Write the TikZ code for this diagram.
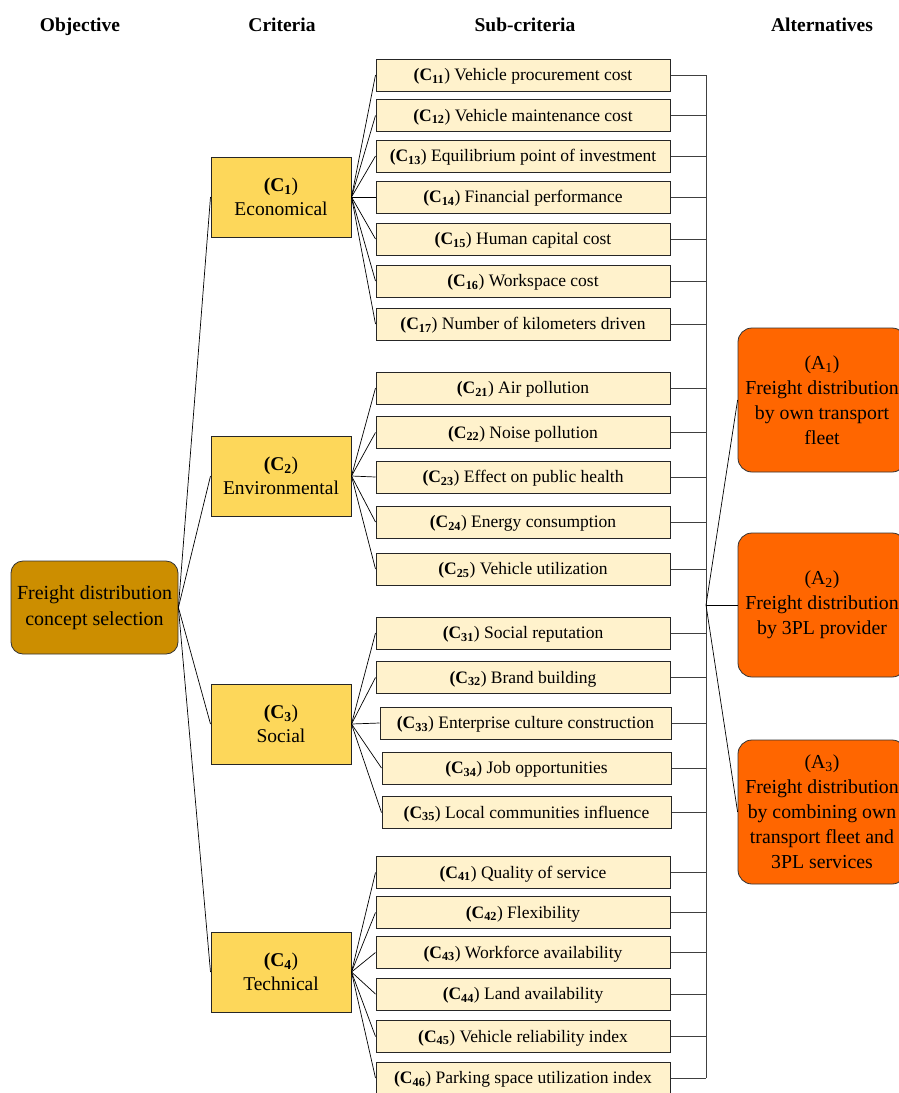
\documentclass[tikz,border=0pt]{standalone}
\usepackage{fontspec}
\setmainfont{Liberation Serif}
\begin{document}
\begin{tikzpicture}[x=1pt,y=-1pt,
  every node/.style={inner sep=0pt, align=center},
  obj/.style={draw=black!80, line width=0.8pt, fill={rgb,255:red,204;green,142;blue,0}, rounded corners=12pt, minimum width=167pt, minimum height=93pt, font=\fontsize{20}{26}\selectfont},
  crit/.style={draw=black!85, line width=1pt, fill={rgb,255:red,253;green,215;blue,90}, minimum width=140pt, minimum height=80pt, font=\fontsize{19.5}{24}\selectfont},
  sub/.style={draw=black!85, line width=1pt, fill={rgb,255:red,255;green,242;blue,204}, minimum width=294pt, minimum height=32pt, text height=15pt, text depth=4pt, font=\fontsize{17.5}{19}\selectfont},
  alt/.style={draw=black!80, line width=0.8pt, fill={rgb,255:red,255;green,102;blue,0}, rounded corners=14pt, minimum width=168pt, minimum height=144pt, font=\fontsize{19.8}{25}\selectfont},
  hdr/.style={anchor=base, font=\fontsize{19.5}{20}\selectfont\bfseries},
  conn/.style={draw=black, line width=0.7pt},
  brk/.style={draw=black!75, line width=0.9pt}]
\useasboundingbox (0,0) rectangle (898,1093);
% headers
\node[hdr] (h1) at (80,31) {Objective};
\node[hdr] (h2) at (282,31) {Criteria};
\node[hdr] (h3) at (525,31) {Sub-criteria};
\node[hdr] (h4) at (822,31) {Alternatives};
% objective
\node[obj] (o) at (94.5,607.5) {Freight distribution\\concept selection};
% criteria
\node[crit] (c1) at (281,197) {\textbf{(C\textsubscript{1}})\\Economical};
\node[crit] (c2) at (281,476) {\textbf{(C\textsubscript{2}})\\Environmental};
\node[crit] (c3) at (281,724) {\textbf{(C\textsubscript{3}})\\Social};
\node[crit] (c4) at (281,972) {\textbf{(C\textsubscript{4}})\\Technical};
% sub-criteria
\node[sub] (s11) at (523,75) {\textbf{(C\textsubscript{11}}) Vehicle procurement cost};
\node[sub] (s12) at (523,115.5) {\textbf{(C\textsubscript{12}}) Vehicle maintenance cost};
\node[sub] (s13) at (523,156) {\textbf{(C\textsubscript{13}}) Equilibrium point of investment};
\node[sub] (s14) at (523,197) {\textbf{(C\textsubscript{14}}) Financial performance};
\node[sub] (s15) at (523,239) {\textbf{(C\textsubscript{15}}) Human capital cost};
\node[sub] (s16) at (523,281) {\textbf{(C\textsubscript{16}}) Workspace cost};
\node[sub] (s17) at (523,324) {\textbf{(C\textsubscript{17}}) Number of kilometers driven};
\node[sub] (s21) at (523,388) {\textbf{(C\textsubscript{21}}) Air pollution};
\node[sub] (s22) at (523,432.5) {\textbf{(C\textsubscript{22}}) Noise pollution};
\node[sub] (s23) at (523,477) {\textbf{(C\textsubscript{23}}) Effect on public health};
\node[sub] (s24) at (523,522) {\textbf{(C\textsubscript{24}}) Energy consumption};
\node[sub] (s25) at (523,569) {\textbf{(C\textsubscript{25}}) Vehicle utilization};
\node[sub] (s31) at (523,633) {\textbf{(C\textsubscript{31}}) Social reputation};
\node[sub] (s32) at (523,677.5) {\textbf{(C\textsubscript{32}}) Brand building};
\node[sub, minimum width=291pt] (s33) at (525.5,723) {\textbf{(C\textsubscript{33}}) Enterprise culture construction};
\node[sub, minimum width=289pt] (s34) at (526.5,768) {\textbf{(C\textsubscript{34}}) Job opportunities};
\node[sub, minimum width=289pt] (s35) at (526.5,812.5) {\textbf{(C\textsubscript{35}}) Local communities influence};
\node[sub] (s41) at (523,872.5) {\textbf{(C\textsubscript{41}}) Quality of service};
\node[sub] (s42) at (523,912.5) {\textbf{(C\textsubscript{42}}) Flexibility};
\node[sub] (s43) at (523,952.5) {\textbf{(C\textsubscript{43}}) Workforce availability};
\node[sub] (s44) at (523,994) {\textbf{(C\textsubscript{44}}) Land availability};
\node[sub] (s45) at (523,1036.5) {\textbf{(C\textsubscript{45}}) Vehicle reliability index};
\node[sub] (s46) at (523,1078) {\textbf{(C\textsubscript{46}}) Parking space utilization index};
% alternatives
\node[alt] (a1) at (822,400) {(A\textsubscript{1})\\Freight distribution\\by own transport\\fleet};
\node[alt] (a2) at (822,605) {(A\textsubscript{2})\\Freight distribution\\by 3PL provider};
\node[alt] (a3) at (822,812) {(A\textsubscript{3})\\Freight distribution\\by combining own\\transport fleet and\\3PL services};
% objective to criteria
\foreach \c in {c1,c2,c3,c4} \draw[conn] (o.east) -- (\c.west);
% criteria to sub-criteria
\foreach \s in {s11,s12,s13,s14,s15,s16,s17} \draw[conn] (c1.east) -- (\s.west);
\foreach \s in {s21,s22,s23,s24,s25} \draw[conn] (c2.east) -- (\s.west);
\foreach \s in {s31,s32,s33,s34,s35} \draw[conn] (c3.east) -- (\s.west);
\foreach \s in {s41,s42,s43,s44,s45,s46} \draw[conn] (c4.east) -- (\s.west);
% bracket
\coordinate (j) at (706,605);
\draw[brk] (s11.east -| j) -- (s46.east -| j);
\foreach \s in {s11,s12,s13,s14,s15,s16,s17,s21,s22,s23,s24,s25,s31,s32,s33,s34,s35,s41,s42,s43,s44,s45,s46}
  \draw[brk] (\s.east) -- (\s.east -| j);
\foreach \a in {a1,a2,a3} \draw[conn] (j) -- (\a.west);
\end{tikzpicture}
\end{document}
